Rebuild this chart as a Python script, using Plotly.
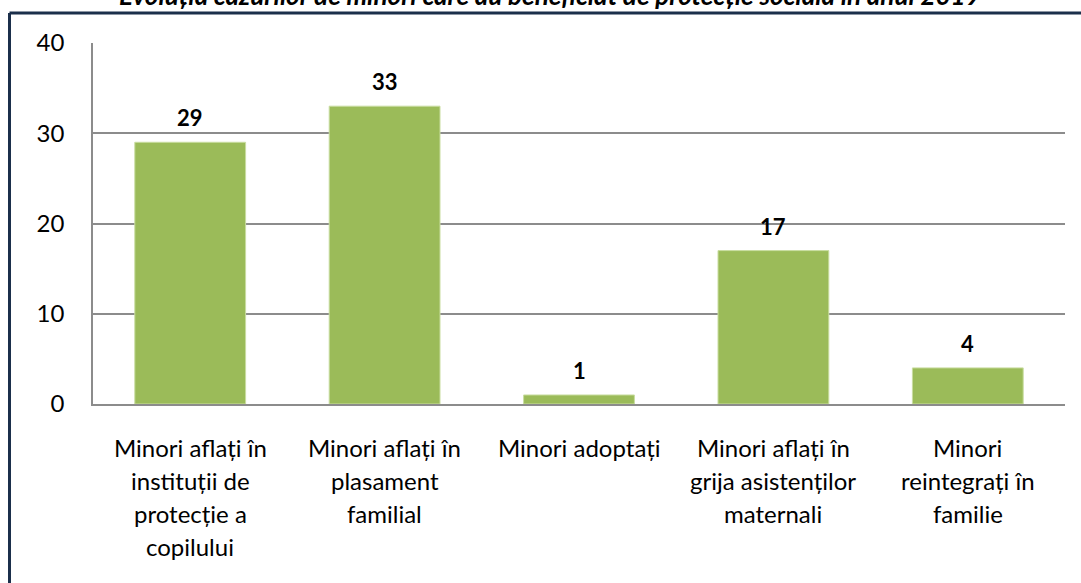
import plotly.graph_objects as go

categories = [
    "Minori aflați în instituții de protecție a copilului",
    "Minori aflați în plasament familial",
    "Minori adoptați",
    "Minori aflați în grija asistenților maternali",
    "Minori reintegrați în familie",
]
category_lines = [
    ["Minori aflați în", "instituții de", "protecție a", "copilului"],
    ["Minori aflați în", "plasament", "familial"],
    ["Minori adoptați"],
    ["Minori aflați în", "grija asistenților", "maternali"],
    ["Minori", "reintegrați în", "familie"],
]
values = [29, 33, 1, 17, 4]
y_ticks = [0, 10, 20, 30, 40]
title_text = "Evoluția cazurilor de minori care au beneficiat de protecție socială în anul 2019"

FONT = "Lato"
BAR = "#9BBB59"
GRID = "#8C8C8C"
NAVY = "#1B2F4B"

fig = go.Figure()
fig.add_trace(go.Bar(
    x=categories, y=values,
    marker=dict(color=BAR, line=dict(color="#C9DDA0", width=1)),
    width=0.57,
    hoverinfo="skip",
))

annotations = []
for c, v in zip(categories, values):
    annotations.append(dict(
        x=c, y=v, xref="x", yref="y", text=f"<b>{v}</b>", showarrow=False,
        yanchor="bottom", yshift=9,
        font=dict(family=FONT, size=22, color="#000000"),
    ))
for c, lines in zip(categories, category_lines):
    for i, line in enumerate(lines):
        annotations.append(dict(
            x=c, y=0, xref="x", yref="y", text=line, showarrow=False,
            yanchor="middle", yshift=-(43 + 33 * i),
            font=dict(family=FONT, size=24, color="#000000"),
        ))

# title, clipped at the very top as in the reference
annotations.append(dict(
    x=(550 - 93) / 972, y=(404 + 5) / 361, xref="paper", yref="paper",
    text=f"<b><i>{title_text}</i></b>", showarrow=False,
    xanchor="center", yanchor="middle",
    font=dict(family=FONT, size=26, color="#000000"),
))

shapes = [
    dict(type="line", xref="paper", yref="paper",
         x0=(9.5 - 93) / 972, x1=(1100 - 93) / 972,
         y0=(404 - 13) / 361, y1=(404 - 13) / 361,
         line=dict(color=NAVY, width=3)),
    dict(type="line", xref="paper", yref="paper",
         x0=(9.5 - 93) / 972, x1=(9.5 - 93) / 972,
         y0=(404 - 13) / 361, y1=(404 - 620) / 361,
         line=dict(color=NAVY, width=3)),
]

fig.update_layout(
    width=1081, height=583,
    margin=dict(l=93, r=16, t=43, b=179),
    paper_bgcolor="white", plot_bgcolor="white",
    showlegend=False,
    annotations=annotations,
    shapes=shapes,
    font=dict(family=FONT, size=24, color="#000000"),
)
fig.update_xaxes(
    showticklabels=False, showgrid=False, ticks="",
    showline=True, linecolor=GRID, linewidth=1.5,
    range=[-0.5, 4.5],
)
fig.update_yaxes(
    range=[0, 40], tickvals=y_ticks, ticks="",
    showgrid=True, gridcolor=GRID, gridwidth=1.5,
    showline=True, linecolor=GRID, linewidth=1.5,
    zeroline=False,
    tickfont=dict(family=FONT, size=24, color="#000000"),
    ticklabelstandoff=22,
)

fig.write_html(
    "out.html",
    config={"displayModeBar": False},
    post_script="document.body.style.margin='0';document.body.style.overflow='hidden';",
)
